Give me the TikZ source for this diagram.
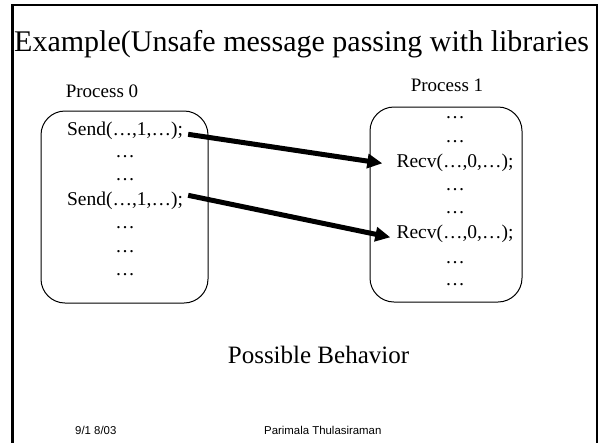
\documentclass[tikz,border=0pt]{standalone}
\usepackage{fontspec}
\setmainfont{Liberation Serif}
\newfontfamily\footfont{Liberation Sans}
\usepackage{tikz}
\usetikzlibrary{positioning, arrows.meta}

\begin{document}
\begin{tikzpicture}[
  x=1pt, y=-1pt,
  every node/.style={inner sep=0pt, font=\fontsize{19.5}{23}\selectfont},
  procbox/.style={draw, line width=1pt, rounded corners=24pt},
  codeline/.style={anchor=base},
  label/.style={anchor=base, font=\fontsize{19}{23}\selectfont},
  arrow/.style={-{Triangle[length=15pt, width=14pt]}, line width=5pt}
]
\useasboundingbox (0,0) rectangle (602,442);

% Frame
\draw[line width=2.5pt] (12.5,443) -- (12.5,5) -- (597,5) -- (597,443);

% Title
\node[anchor=base west, font=\fontsize{30}{34}\selectfont] (title) at (14,51)
  {Example(Unsafe message passing with libraries};

% Boxes
\node[procbox, minimum width=167pt, minimum height=192pt] (proc0) at (124.5,207) {};
\node[procbox, minimum width=152pt, minimum height=195pt] (proc1) at (446,204.5) {};
\node[label] (lab0) at (102,97) {Process 0};
\node[label] (lab1) at (447,91) {Process 1};

% Process 0
\node[codeline] (send1) at (125,135) {Send(…,1,…);};
\node[codeline] (s2) at (125,157) {…};
\node[codeline] (s3) at (125,180) {…};
\node[codeline] (send2) at (125,205) {Send(…,1,…);};
\node[codeline] (s5) at (125,228) {…};
\node[codeline] (s6) at (125,252) {…};
\node[codeline] (s7) at (125,275) {…};

% Process 1
\node[codeline] (r1) at (455,118) {…};
\node[codeline] (r2) at (455,142) {…};
\node[codeline] (recv1) at (455,167) {Recv(…,0,…);};
\node[codeline] (r4) at (455,190) {…};
\node[codeline] (r5) at (455,213) {…};
\node[codeline] (recv2) at (455,238) {Recv(…,0,…);};
\node[codeline] (r7) at (455,263) {…};
\node[codeline] (r8) at (455,285) {…};

% Arrows
\draw[arrow] ([xshift=5pt, yshift=-4pt]send1.east) -- ([xshift=-14pt, yshift=-1pt]recv1.west);
\draw[arrow] ([xshift=5pt, yshift=5pt]send2.east) -- ([xshift=-6pt, yshift=-4pt]recv2.west);

% Labels
\node[anchor=base, font=\fontsize{25}{29}\selectfont] (behav) at (318.5,363) {Possible Behavior};
\node[anchor=base west, font=\footfont\fontsize{11.4}{13}\selectfont] (date) at (75,434) {9/1 8/03};
\node[anchor=base west, font=\footfont\fontsize{11.4}{13}\selectfont] (author) at (264,434) {Parimala Thulasiraman};

\end{tikzpicture}
\end{document}
